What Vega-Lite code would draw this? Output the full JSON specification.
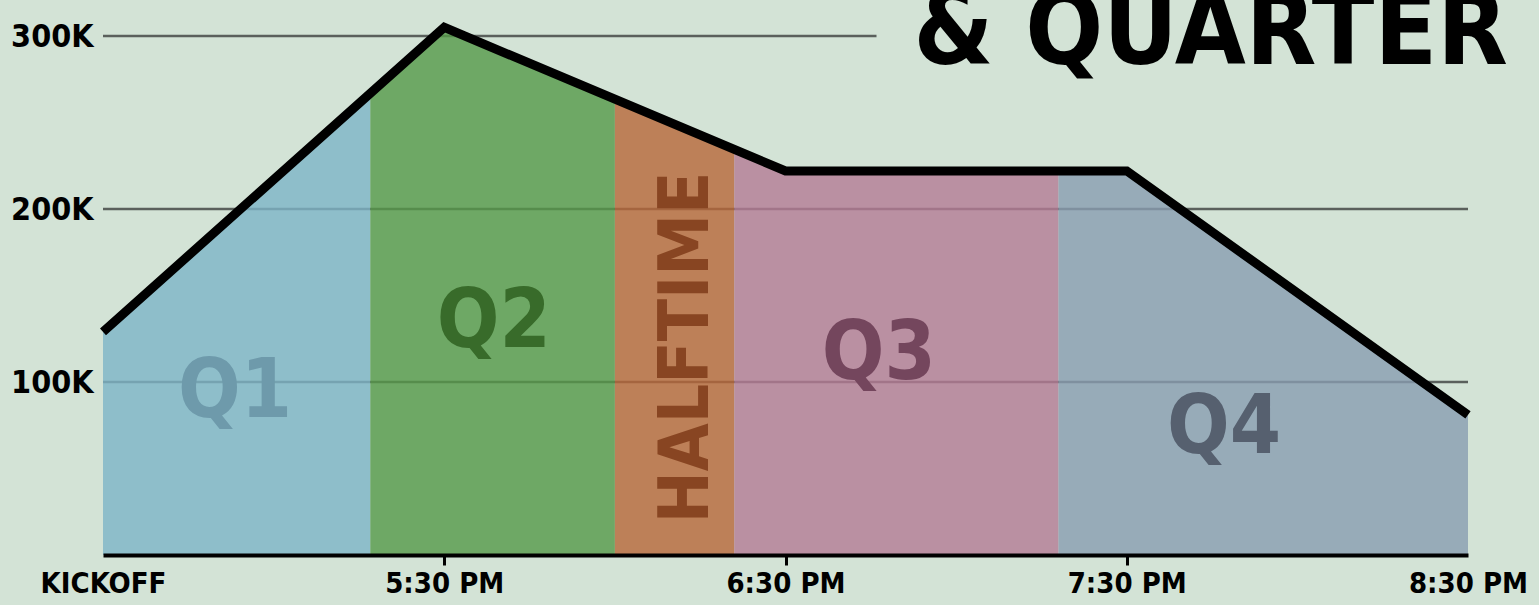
{
  "$schema": "https://vega.github.io/schema/vega-lite/v6.json",
  "width": 1365,
  "height": 519,
  "autosize": {"type": "none"},
  "padding": {"left": 103, "right": 71, "top": 36, "bottom": 50},
  "background": "#d3e3d6",
  "config": {"view": {"stroke": null}, "font": "Liberation Sans Narrow, DejaVu Sans Condensed, sans-serif"},
  "datasets": {
    "bands": [
      {"period": "Q1", "minute": 0, "viewers": 129000},
      {"period": "Q1", "minute": 47, "viewers": 266000},
      {"period": "Q2", "minute": 47, "viewers": 266000},
      {"period": "Q2", "minute": 60, "viewers": 305000},
      {"period": "Q2", "minute": 90, "viewers": 263000},
      {"period": "Halftime", "minute": 90, "viewers": 263000},
      {"period": "Halftime", "minute": 111, "viewers": 234000},
      {"period": "Q3", "minute": 111, "viewers": 234000},
      {"period": "Q3", "minute": 120, "viewers": 222000},
      {"period": "Q3", "minute": 168, "viewers": 222000},
      {"period": "Q4", "minute": 168, "viewers": 222000},
      {"period": "Q4", "minute": 180, "viewers": 222000},
      {"period": "Q4", "minute": 240, "viewers": 81000}
    ],
    "line": [
      {"minute": 0, "viewers": 129000},
      {"minute": 60, "viewers": 305000},
      {"minute": 120, "viewers": 222000},
      {"minute": 180, "viewers": 222000},
      {"minute": 240, "viewers": 81000}
    ],
    "grid": [
      {"minute": 0, "minuteEnd": 240, "viewers": 100000},
      {"minute": 0, "minuteEnd": 240, "viewers": 200000},
      {"minute": 0, "minuteEnd": 136, "viewers": 300000}
    ],
    "labels": [
      {"period": "Q1", "label": "Q1", "minute": 23.2, "viewers": 80000},
      {"period": "Q2", "label": "Q2", "minute": 68.7, "viewers": 120000},
      {"period": "Q3", "label": "Q3", "minute": 136.4, "viewers": 101700},
      {"period": "Q4", "label": "Q4", "minute": 197.1, "viewers": 59000}
    ],
    "halftime": [
      {"label": "HALFTIME", "minute": 106.4, "viewers": 120000}
    ],
    "heading": [
      {"label": "& QUARTER", "minute": 247, "viewers": 284000}
    ]
  },
  "encoding": {
    "x": {
      "field": "minute",
      "type": "quantitative",
      "scale": {"domain": [0, 240], "nice": false, "zero": false},
      "axis": {
        "values": [0, 60, 120, 180, 240],
        "labelExpr": "datum.value == 0 ? 'KICKOFF' : datum.value == 60 ? '5:30 PM' : datum.value == 120 ? '6:30 PM' : datum.value == 180 ? '7:30 PM' : '8:30 PM'",
        "title": null,
        "grid": false,
        "domainColor": "#000000",
        "domainWidth": 4,
        "domainCap": "butt",
        "tickColor": "#000000",
        "tickWidth": 3,
        "tickSize": 10,
        "tickOpacity": {"condition": {"test": "datum.value == 0 || datum.value == 240", "value": 0}, "value": 1},
        "labelFont": "Liberation Sans Narrow, DejaVu Sans Condensed, sans-serif",
        "labelFontWeight": "bold",
        "labelFontSize": 29,
        "labelColor": "#000000",
        "labelPadding": 4,
        "labelFlush": false,
        "labelOverlap": false,
        "zindex": 1
      }
    },
    "y": {
      "field": "viewers",
      "type": "quantitative",
      "stack": null,
      "scale": {"domain": [0, 300000], "nice": false},
      "axis": {
        "values": [100000, 200000, 300000],
        "labelExpr": "(datum.value / 1000) + 'K'",
        "title": null,
        "grid": false,
        "domain": false,
        "ticks": false,
        "labelPadding": 10,
        "labelFont": "Liberation Sans Narrow, DejaVu Sans Condensed, sans-serif",
        "labelFontWeight": "bold",
        "labelFontSize": 32,
        "labelColor": "#000000"
      }
    }
  },
  "layer": [
    {
      "data": {"name": "grid"},
      "mark": {"type": "rule", "color": "#5a605c", "strokeWidth": 2.5},
      "encoding": {"x2": {"field": "minuteEnd"}}
    },
    {
      "data": {"name": "bands"},
      "mark": {"type": "area", "opacity": 0.8},
      "encoding": {
        "color": {
          "field": "period",
          "type": "nominal",
          "scale": {"domain": ["Q1", "Q2", "Halftime", "Q3", "Q4"], "range": ["#7db4c7", "#559848", "#b86738", "#b47a95", "#889cb0"]},
          "legend": null
        }
      }
    },
    {
      "data": {"name": "labels"},
      "mark": {"type": "text", "fontSize": 82, "fontWeight": "bold", "align": "center", "baseline": "alphabetic"},
      "encoding": {
        "text": {"field": "label"},
        "color": {
          "field": "period",
          "type": "nominal",
          "scale": {"domain": ["Q1", "Q2", "Q3", "Q4"], "range": ["#6e9aab", "#386b2a", "#74465d", "#56606f"]},
          "legend": null
        }
      }
    },
    {
      "data": {"name": "halftime"},
      "mark": {"type": "text", "fontSize": 69, "fontWeight": "bold", "angle": 270, "align": "center", "baseline": "alphabetic", "color": "#884522"},
      "encoding": {"text": {"field": "label"}}
    },
    {
      "data": {"name": "line"},
      "mark": {"type": "line", "color": "#000000", "strokeWidth": 9, "strokeJoin": "miter", "strokeCap": "butt"},
      "encoding": {}
    },
    {
      "data": {"name": "heading"},
      "mark": {"type": "text", "fontSize": 102, "fontWeight": "bold", "align": "right", "baseline": "alphabetic", "color": "#000000"},
      "encoding": {"text": {"field": "label"}}
    }
  ],
  "resolve": {"scale": {"color": "independent"}}
}
